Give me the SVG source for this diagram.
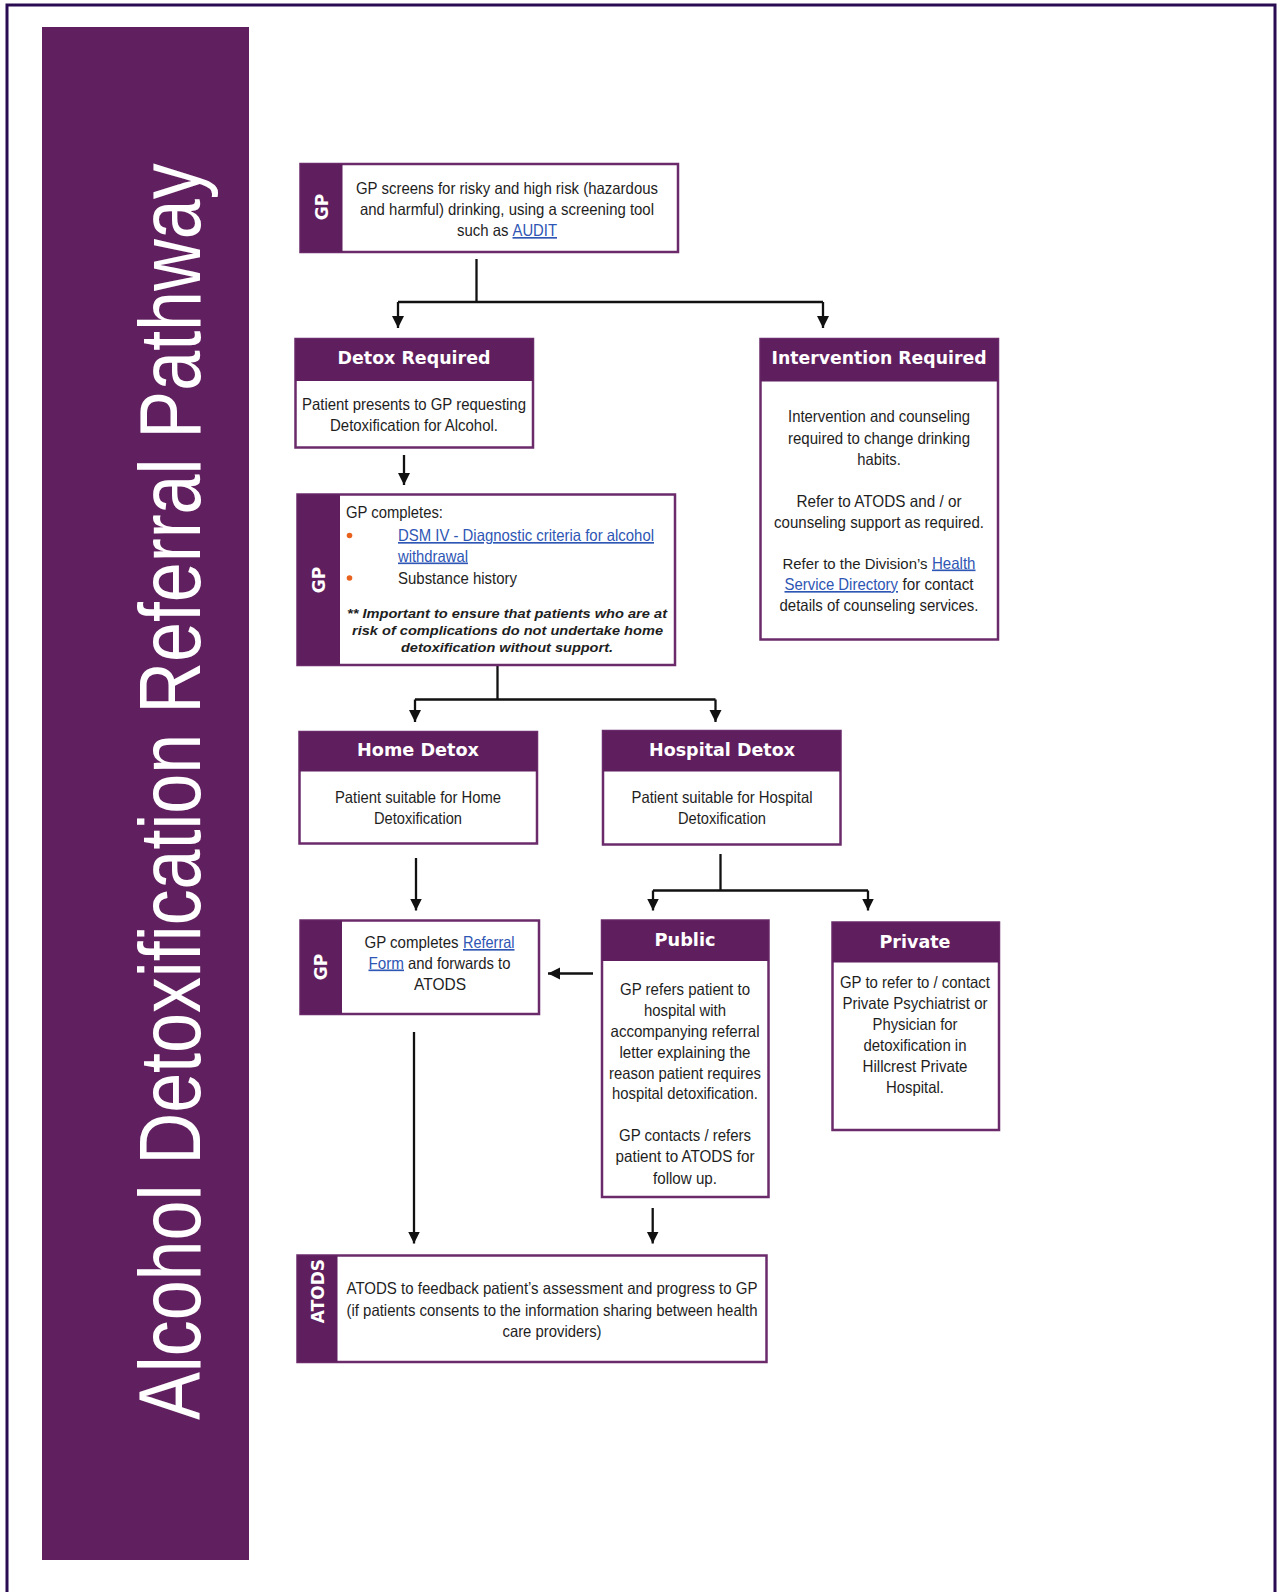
<svg xmlns="http://www.w3.org/2000/svg" width="1280" height="1592" viewBox="0 0 1280 1592">
<style>
.box{fill:#ffffff;stroke:#6b2b6b;stroke-width:2.5}
.hd{fill:#5f1e5e}
.t{font-family:"Liberation Sans",Arial,sans-serif;font-size:16.5px;fill:#1e1e1e;text-anchor:middle}
.l{text-anchor:start}
.lk{fill:#2e56b4;text-decoration:underline}
.h{font-family:"DejaVu Sans",Verdana,sans-serif;font-weight:bold;font-size:17px;fill:#ffffff;text-anchor:middle}
.tab{font-family:"DejaVu Sans",Verdana,sans-serif;font-weight:bold;font-size:17px;fill:#ffffff;text-anchor:middle;dominant-baseline:central}
.bi{font-family:"Liberation Sans",Arial,sans-serif;font-size:13.5px;font-weight:bold;font-style:italic;fill:#1e1e1e;text-anchor:middle}
.c{fill:none;stroke:#111111;stroke-width:2.3}
.a{marker-end:url(#arr)}
</style>
<defs>
<marker id="arr" markerUnits="userSpaceOnUse" markerWidth="13" markerHeight="13" refX="12" refY="6.5" orient="auto" viewBox="0 0 13 13">
<path d="M0,0.5 L12,6.5 L0,12.5 z" fill="#111111"/>
</marker>
</defs>
<rect x="0" y="0" width="1280" height="1592" fill="#ffffff"/>
<path d="M7,1592 V5 H1275 V1592" fill="none" stroke="#2a0c52" stroke-width="3"/>
<g id="sidebar">
<rect x="42" y="27" width="207" height="1533" fill="#601f5e"/>
<text transform="translate(200,1420) rotate(-90) scale(0.825,1)" font-family="'Liberation Sans',Arial,sans-serif" font-size="87" fill="#ffffff">Alcohol Detoxification Referral Pathway</text>
</g>
<g id="connectors">
<path class="c" d="M476.5,259 V302 M398,302 H823 M720.5,854 V890.5 M653,890.5 H868 M497.5,662 V699.5 M415,699.5 H715.5"/>
<path class="c a" d="M398,302 V328"/>
<path class="c a" d="M823,302 V328"/>
<path class="c a" d="M404,455 V485"/>
<path class="c a" d="M415,699.5 V722"/>
<path class="c a" d="M715.5,699.5 V722"/>
<path class="c a" d="M416,858 V910.5"/>
<path class="c a" d="M653,890.5 V910.5"/>
<path class="c a" d="M868,890.5 V910.5"/>
<path class="c a" d="M593,973.5 H548"/>
<path class="c a" d="M414,1032 V1243.5"/>
<path class="c a" d="M652.7,1208 V1243.5"/>
</g>
<g id="gp-screen">
<rect class="box" x="300.5" y="164" width="377.5" height="88"/>
<rect class="hd" x="300.5" y="164" width="42" height="88"/>
<text class="tab" transform="translate(321.5,207) rotate(-90)">GP</text>
<text class="t" x="507" y="194" textLength="302" lengthAdjust="spacingAndGlyphs">GP screens for risky and high risk (hazardous</text>
<text class="t" x="507" y="215" textLength="294" lengthAdjust="spacingAndGlyphs">and harmful) drinking, using a screening tool</text>
<text class="t l" x="457" y="236" textLength="51.5" lengthAdjust="spacingAndGlyphs">such as</text>
<text class="t l lk" x="512.5" y="236" textLength="44.5" lengthAdjust="spacingAndGlyphs">AUDIT</text>
</g>
<g id="detox-required">
<rect class="box" x="295.5" y="339" width="237.5" height="108.5"/>
<rect class="hd" x="295.5" y="339" width="237.5" height="42"/>
<text class="h" x="414" y="363.5" textLength="153" lengthAdjust="spacingAndGlyphs">Detox Required</text>
<text class="t" x="414" y="410" textLength="224" lengthAdjust="spacingAndGlyphs">Patient presents to GP requesting</text>
<text class="t" x="414" y="431" textLength="168" lengthAdjust="spacingAndGlyphs">Detoxification for Alcohol.</text>
</g>
<g id="intervention-required">
<rect class="box" x="760.5" y="339" width="237.5" height="300.5"/>
<rect class="hd" x="760.5" y="339" width="237.5" height="42.5"/>
<text class="h" x="879" y="363.5" textLength="215" lengthAdjust="spacingAndGlyphs">Intervention Required</text>
<text class="t" x="879" y="422" textLength="182" lengthAdjust="spacingAndGlyphs">Intervention and counseling</text>
<text class="t" x="879" y="443.5" textLength="182" lengthAdjust="spacingAndGlyphs">required to change drinking</text>
<text class="t" x="879" y="465" textLength="43.5" lengthAdjust="spacingAndGlyphs">habits.</text>
<text class="t" x="879" y="506.5" textLength="165" lengthAdjust="spacingAndGlyphs">Refer to ATODS and / or</text>
<text class="t" x="879" y="528" textLength="210" lengthAdjust="spacingAndGlyphs">counseling support as required.</text>
<text class="t l" x="782.5" y="568.5" font-size="15" style="font-size:15px" textLength="145" lengthAdjust="spacingAndGlyphs">Refer to the Division’s</text>
<text class="t l lk" x="932" y="568.5" textLength="43.5" lengthAdjust="spacingAndGlyphs">Health</text>
<text class="t l lk" x="784.5" y="590" textLength="113.5" lengthAdjust="spacingAndGlyphs">Service Directory</text>
<text class="t l" x="902.5" y="590" textLength="71" lengthAdjust="spacingAndGlyphs">for contact</text>
<text class="t" x="879" y="611" textLength="199" lengthAdjust="spacingAndGlyphs">details of counseling services.</text>
</g>
<g id="gp-completes">
<rect class="box" x="297.5" y="494.5" width="377.5" height="170.5"/>
<rect class="hd" x="297.5" y="494.5" width="42.5" height="170.5"/>
<text class="tab" transform="translate(318.5,580) rotate(-90)">GP</text>
<text class="t l" x="346" y="517.5" textLength="97" lengthAdjust="spacingAndGlyphs">GP completes:</text>
<circle cx="349.5" cy="535.5" r="2.8" fill="#e8621e"/>
<text class="t l lk" x="398" y="541" textLength="256" lengthAdjust="spacingAndGlyphs">DSM IV - Diagnostic criteria for alcohol</text>
<text class="t l lk" x="398" y="561.5" textLength="70" lengthAdjust="spacingAndGlyphs">withdrawal</text>
<circle cx="349.5" cy="578" r="2.8" fill="#e8621e"/>
<text class="t l" x="398" y="583.5" textLength="119" lengthAdjust="spacingAndGlyphs">Substance history</text>
<text class="bi" x="507" y="618" textLength="320" lengthAdjust="spacingAndGlyphs">** Important to ensure that patients who are at</text>
<text class="bi" x="507.5" y="635" textLength="311" lengthAdjust="spacingAndGlyphs">risk of complications do not undertake home</text>
<text class="bi" x="507" y="651.5" textLength="212" lengthAdjust="spacingAndGlyphs">detoxification without support.</text>
</g>
<g id="home-detox">
<rect class="box" x="299.5" y="732" width="237.5" height="111.5"/>
<rect class="hd" x="299.5" y="732" width="237.5" height="39.5"/>
<text class="h" x="418" y="756" textLength="122" lengthAdjust="spacingAndGlyphs">Home Detox</text>
<text class="t" x="418" y="803" textLength="166" lengthAdjust="spacingAndGlyphs">Patient suitable for Home</text>
<text class="t" x="418" y="824" textLength="88" lengthAdjust="spacingAndGlyphs">Detoxification</text>
</g>
<g id="hospital-detox">
<rect class="box" x="603" y="731" width="237.5" height="113.5"/>
<rect class="hd" x="603" y="731" width="237.5" height="40.5"/>
<text class="h" x="722" y="756" textLength="146" lengthAdjust="spacingAndGlyphs">Hospital Detox</text>
<text class="t" x="722" y="803" textLength="181" lengthAdjust="spacingAndGlyphs">Patient suitable for Hospital</text>
<text class="t" x="722" y="824" textLength="88" lengthAdjust="spacingAndGlyphs">Detoxification</text>
</g>
<g id="gp-referral">
<rect class="box" x="300.5" y="920.5" width="238.5" height="93.5"/>
<rect class="hd" x="300.5" y="920.5" width="41.5" height="93.5"/>
<text class="tab" transform="translate(321,967) rotate(-90)">GP</text>
<text class="t l" x="364.5" y="948" textLength="94" lengthAdjust="spacingAndGlyphs">GP completes</text>
<text class="t l lk" x="463" y="948" textLength="51.5" lengthAdjust="spacingAndGlyphs">Referral</text>
<text class="t l lk" x="368.5" y="968.5" textLength="35.5" lengthAdjust="spacingAndGlyphs">Form</text>
<text class="t l" x="408" y="968.5" textLength="102.5" lengthAdjust="spacingAndGlyphs">and forwards to</text>
<text class="t" x="440" y="989.5" textLength="52" lengthAdjust="spacingAndGlyphs">ATODS</text>
</g>
<g id="public">
<rect class="box" x="602" y="920.5" width="166.5" height="276.5"/>
<rect class="hd" x="602" y="920.5" width="166.5" height="40.5"/>
<text class="h" x="685" y="946" textLength="61" lengthAdjust="spacingAndGlyphs">Public</text>
<text class="t" x="685" y="994.5" textLength="130" lengthAdjust="spacingAndGlyphs">GP refers patient to</text>
<text class="t" x="685" y="1016" textLength="82" lengthAdjust="spacingAndGlyphs">hospital with</text>
<text class="t" x="685" y="1037" textLength="149" lengthAdjust="spacingAndGlyphs">accompanying referral</text>
<text class="t" x="685" y="1057.5" textLength="131" lengthAdjust="spacingAndGlyphs">letter explaining the</text>
<text class="t" x="685" y="1079" textLength="152" lengthAdjust="spacingAndGlyphs">reason patient requires</text>
<text class="t" x="685" y="1099" textLength="146" lengthAdjust="spacingAndGlyphs">hospital detoxification.</text>
<text class="t" x="685" y="1141" textLength="132" lengthAdjust="spacingAndGlyphs">GP contacts / refers</text>
<text class="t" x="685" y="1162" textLength="139" lengthAdjust="spacingAndGlyphs">patient to ATODS for</text>
<text class="t" x="685" y="1183.5" textLength="64" lengthAdjust="spacingAndGlyphs">follow up.</text>
</g>
<g id="private">
<rect class="box" x="832.5" y="922.5" width="166.5" height="207.5"/>
<rect class="hd" x="832.5" y="922.5" width="166.5" height="40"/>
<text class="h" x="915" y="948" textLength="71" lengthAdjust="spacingAndGlyphs">Private</text>
<text class="t" x="915" y="987.5" textLength="150" lengthAdjust="spacingAndGlyphs">GP to refer to / contact</text>
<text class="t" x="915" y="1009" textLength="145" lengthAdjust="spacingAndGlyphs">Private Psychiatrist or</text>
<text class="t" x="915" y="1030" textLength="85" lengthAdjust="spacingAndGlyphs">Physician for</text>
<text class="t" x="915" y="1050.5" textLength="103" lengthAdjust="spacingAndGlyphs">detoxification in</text>
<text class="t" x="915" y="1072" textLength="105" lengthAdjust="spacingAndGlyphs">Hillcrest Private</text>
<text class="t" x="915" y="1093" textLength="58" lengthAdjust="spacingAndGlyphs">Hospital.</text>
</g>
<g id="atods">
<rect class="box" x="297.5" y="1255.5" width="469" height="106.5"/>
<rect class="hd" x="297.5" y="1255.5" width="40" height="106.5"/>
<text class="tab" transform="translate(317.5,1291) rotate(-90)">ATODS</text>
<text class="t" x="552" y="1294" textLength="411" lengthAdjust="spacingAndGlyphs">ATODS to feedback patient’s assessment and progress to GP</text>
<text class="t" x="552" y="1315.5" textLength="411" lengthAdjust="spacingAndGlyphs">(if patients consents to the information sharing between health</text>
<text class="t" x="552" y="1337" textLength="99" lengthAdjust="spacingAndGlyphs">care providers)</text>
</g>
</svg>
